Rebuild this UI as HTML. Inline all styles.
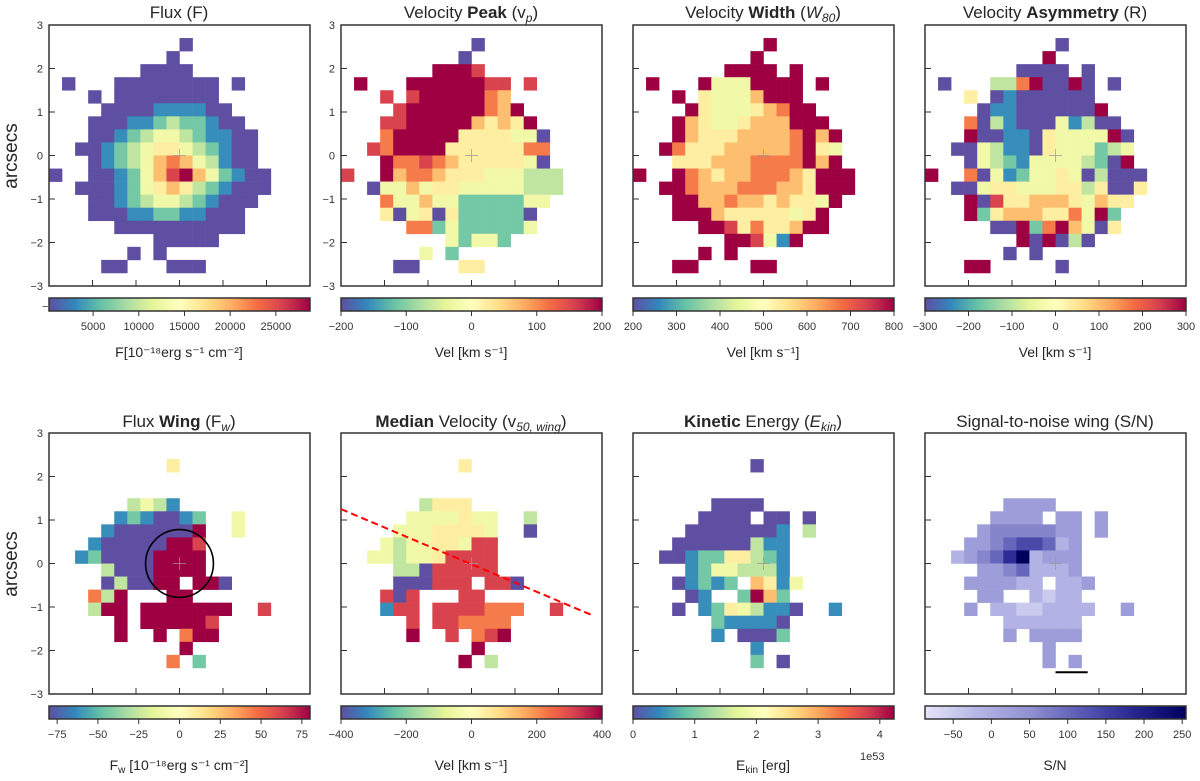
<!DOCTYPE html>
<html><head><meta charset="utf-8"><style>
body{margin:0;background:#fff}
svg{display:block;font-family:"Liberation Sans","DejaVu Sans",sans-serif;fill:#262626}
.t{font-size:17px;text-anchor:middle}
.tk{font-size:11px;fill:#333}
.cl{font-size:14px;text-anchor:middle}
</style></head><body>
<svg id="fig" width="1200" height="781" viewBox="0 0 1200 781">
<defs>
<linearGradient id="gSpec" x1="0" x2="1" y1="0" y2="0"><stop offset="0" stop-color="#5e4fa2"/><stop offset="0.1" stop-color="#3288bd"/><stop offset="0.2" stop-color="#66c2a5"/><stop offset="0.3" stop-color="#abdda4"/><stop offset="0.4" stop-color="#e6f598"/><stop offset="0.5" stop-color="#ffffbf"/><stop offset="0.6" stop-color="#fee08b"/><stop offset="0.7" stop-color="#fdae61"/><stop offset="0.8" stop-color="#f46d43"/><stop offset="0.9" stop-color="#d53e4f"/><stop offset="1" stop-color="#9e0142"/></linearGradient>
<linearGradient id="gSN" x1="0" x2="1" y1="0" y2="0"><stop offset="0" stop-color="#e4e4f9"/><stop offset="0.2" stop-color="#b6b6e6"/><stop offset="0.4" stop-color="#9191d3"/><stop offset="0.6" stop-color="#5a5ab5"/><stop offset="0.8" stop-color="#262690"/><stop offset="1" stop-color="#00005c"/></linearGradient>
</defs>
<g>
<text class="t" x="179" y="18">Flux (F)</text>
<text class="t" x="471" y="18">Velocity <tspan font-weight="bold">Peak</tspan> (v<tspan font-size="12" font-style="italic" dy="4">p</tspan><tspan dy="-4">)</tspan></text>
<text class="t" x="763" y="18">Velocity <tspan font-weight="bold">Width</tspan> (<tspan font-style="italic">W</tspan><tspan font-size="12" font-style="italic" dy="4">80</tspan><tspan dy="-4">)</tspan></text>
<text class="t" x="1055" y="18">Velocity <tspan font-weight="bold">Asymmetry</tspan> (R)</text>
<text class="t" x="179" y="427">Flux <tspan font-weight="bold">Wing</tspan> (F<tspan font-size="12" font-style="italic" dy="4">w</tspan><tspan dy="-4">)</tspan></text>
<text class="t" x="471" y="427"><tspan font-weight="bold">Median</tspan> Velocity (v<tspan font-size="12" font-style="italic" dy="4">50, wing</tspan><tspan dy="-4">)</tspan></text>
<text class="t" x="763" y="427"><tspan font-weight="bold">Kinetic</tspan> Energy (<tspan font-style="italic">E</tspan><tspan font-size="12" font-style="italic" dy="4">kin</tspan><tspan dy="-4">)</tspan></text>
<text class="t" x="1055" y="427">Signal-to-noise wing (S/N)</text>
</g>
<g>
<text class="cl" x="179" y="357">F[10⁻¹⁸erg s⁻¹ cm⁻²]</text>
<text class="cl" x="471" y="357">Vel [km s⁻¹]</text>
<text class="cl" x="763" y="357">Vel [km s⁻¹]</text>
<text class="cl" x="1055" y="357">Vel [km s⁻¹]</text>
<text class="cl" x="179" y="770">F<tspan font-size="10" dy="3">w</tspan><tspan dy="-3"> [10⁻¹⁸erg s⁻¹ cm⁻²]</tspan></text>
<text class="cl" x="471" y="770">Vel [km s⁻¹]</text>
<text class="cl" x="763" y="770">E<tspan font-size="10" dy="3">kin</tspan><tspan dy="-3"> [erg]</tspan></text>
<text class="cl" x="1055" y="770">S/N</text>
<text class="tk" x="860" y="760">1e53</text>
<text class="tk" x="42" y="310">−</text>
<text class="tk" x="305" y="310">8</text>
</g>
<text font-size="19" transform="translate(17,156) rotate(-90)" text-anchor="middle">arcsecs</text>
<text font-size="19" transform="translate(17,564) rotate(-90)" text-anchor="middle">arcsecs</text>
</svg>
<script>
const fluxRows=["....................","..........0.........",".........0..........",".......0000.........",".0...00000000.0.....","...0.00000000.......","....0000111100......","...000112322100.....","...0012344321100....","..00123455432100....","...0123467643100....","0..00124689642100...","..000124565321000...","...0012344321000....","...000112211000.....",".....0000000000.....","........00000.......","......0.0...........","....00...000........"];
const vpeakRows=["....................","..........0.........",".........0..........",".......9998.........",".9...99999988.8.....","...8.89999976.......","....8999999769......","...889999965659.....","...7999995555440....","..87999955555577....","...9778765555540....","8..96776555444333...","..044645544444333...","...7446442222244....","...504505222220.....",".....7724222224.....","........42442.......","......4.2...........","....00...55........."];
const w80Rows=["....................","..........9.........",".........9..........",".......9999.9.......",".9...94449999.9.....","...9.54446999.......","....9544456799......","...965445666999.....","...9655566667969....","..97555666667954....","...5556667777969....","9..97656677765999...","..997666777665999...","...9966766565549....","...999655555459.....",".....9985755699.....",".......998419.......",".....9.9............","...99....99........."];
const asymRows=["....................","..........0.........",".........9..........",".......0000.0.......",".0...33790090.0.....","...5.01000000.......","....0110000009......","...703100041300.....","...9001105444490....","..00431105444234....","...0432144443209....","9..70412445403000...","..004554445535005...","...9085566654655....","...925666557492.....",".....0092796405.....",".......909030.......","......0.0...........","...99.....0........."];
const fwingRows=["....................","....................",".........5..........","....................","....................","......3431..........",".....1210012..4.....","....10000009..4.....","...100000998........","..1200009999........","....30009999........","....030099.990......","...739...99.........","...399.9999999..8...",".....9.999998.......",".....9..9.799.......","..........9.........",".........7.2........"];
const v50Rows=["....................","....................",".........5..........","....................","....................","......3555..........",".....4444544..3.....","....44455554..0.....","...434455488........","..4434458888........","....33088888........","....000888.880......","...808...88.........","...188.8888777..8...",".....8.887777.......",".....9..8.789.......","..........9.........",".........9.3........"];
const ekinRows=["....................","....................",".........0..........","....................","....................","......0000..........",".....0000.00.0......","....00000001.3......","...000000311........","..0012255321........","....12443331........","...01212.6514.......","....01..2962........","...0.12543110..1....","......211110........","......1.0002........",".........1..........",".........2.0........"];
const snRows=["....................","....................","....................","....................","....................","......3333..........",".....3333.33.3......","....34444433.3......","...334566523........","..2345792333........","....33452223........","...333322.223.......","....33..2122........","...3.22112222..3....","......222222........","......3.3333........",".........3..........",".........3.3........"];
const fluxTicks=[5000,10000,15000,20000,25000];
const vpeakTicks=[-200,-100,0,100,200];
const w80Ticks=[200,300,400,500,600,700,800];
const asymTicks=[-300,-200,-100,0,100,200,300];
const fwingTicks=[-75,-50,-25,0,25,50,75];
const v50Ticks=[-400,-200,0,200,400];
const ekinTicks=[0,1,2,3,4];
const snTicks=[-50,0,50,100,150,200,250];
const axisTicks=[-3,-2,-1,0,1,2,3];

const NS="http://www.w3.org/2000/svg";
const svg=document.getElementById('fig');
const SPEC=["#5e4fa2","#3288bd","#66c2a5","#abdda4","#e6f598","#ffffbf","#fee08b","#fdae61","#f46d43","#d53e4f","#9e0142"];
const SN=["#e4e4f9","#b6b6e6","#9191d3","#5a5ab5","#262690","#00005c"];
function hex(h){return [parseInt(h.slice(1,3),16),parseInt(h.slice(3,5),16),parseInt(h.slice(5,7),16)];}
function cmap(stops,t){t=Math.max(0,Math.min(1,t));const n=stops.length-1;const i=Math.min(n-1,Math.floor(t*n));const f=t*n-i;const a=hex(stops[i]),b=hex(stops[i+1]);return 'rgb('+a.map((v,k)=>Math.round(v+(b[k]-v)*f)).join(',')+')';}
function mk(tag,attrs,parent){const e=document.createElementNS(NS,tag);for(const k in attrs)e.setAttribute(k,attrs[k]);(parent||svg).appendChild(e);return e;}

const panels=[
 {rows:fluxRows,ticks:fluxTicks,vmin:170,vmax:28740,cm:SPEC,grad:'gSpec',col:0,row:0,name:'flux',fmt:v=>v},
 {rows:vpeakRows,ticks:vpeakTicks,vmin:-200,vmax:200,cm:SPEC,grad:'gSpec',col:1,row:0,name:'velocity-peak',fmt:v=>v},
 {rows:w80Rows,ticks:w80Ticks,vmin:200,vmax:800,cm:SPEC,grad:'gSpec',col:2,row:0,name:'velocity-width',fmt:v=>v},
 {rows:asymRows,ticks:asymTicks,vmin:-300,vmax:300,cm:SPEC,grad:'gSpec',col:3,row:0,name:'velocity-asymmetry',fmt:v=>v},
 {rows:fwingRows,ticks:fwingTicks,vmin:-80,vmax:80,cm:SPEC,grad:'gSpec',col:0,row:1,name:'flux-wing',fmt:v=>v},
 {rows:v50Rows,ticks:v50Ticks,vmin:-400,vmax:400,cm:SPEC,grad:'gSpec',col:1,row:1,name:'median-velocity',fmt:v=>v},
 {rows:ekinRows,ticks:ekinTicks,vmin:0,vmax:4.23,cm:SPEC,grad:'gSpec',col:2,row:1,name:'kinetic-energy',fmt:v=>v},
 {rows:snRows,ticks:snTicks,vmin:-87,vmax:255,cm:SN,grad:'gSN',col:3,row:1,name:'signal-to-noise',fmt:v=>v}
];
const CELL=0.3;
panels.forEach(p=>{
  const x0=49+p.col*292, w=261;
  const y0=p.row===0?25:433, h=261;
  const cbY=p.row===0?298:706, cbH=13;
  const xs=a=>x0+(a+3)/6*w, ys=a=>y0+(3-a)/6*h;
  const g=mk('g',{});
  
  
  p.rows.forEach((r,ri)=>{
    for(let c=0;c<r.length;c++){
      const ch=r[c]; if(ch==='.')continue;
      const val=p.vmin+(+ch)/9*(p.vmax-p.vmin);
      const ax=-3+c*CELL, ay=3-ri*CELL;
      const rc=mk('rect',{x:xs(ax).toFixed(2),y:ys(ay).toFixed(2),width:(xs(ax+CELL)-xs(ax)+0.3).toFixed(2),height:(ys(ay-CELL)-ys(ay)+0.3).toFixed(2),fill:cmap(p.cm,(val-p.vmin)/(p.vmax-p.vmin))},g);
      
      
    }
  });
  // center cross
  const cr=mk('path',{d:`M${xs(-0.15)},${ys(0)}H${xs(0.15)}M${xs(0)},${ys(0.15)}V${ys(-0.15)}`,stroke:'#999',"stroke-width":0.7,fill:'none'},g);
  
  
  // frame
  const fr=mk('rect',{x:x0,y:y0,width:w,height:h,fill:'none',stroke:'#333',"stroke-width":1.5},g);
  
  
  axisTicks.forEach(t=>{
    if(Math.abs(t)<3){
      const tx=mk('line',{x1:xs(t),x2:xs(t),y1:y0+h,y2:y0+h-6,stroke:'#333',"stroke-width":1},g);
      
      
      const ty=mk('line',{x1:x0,x2:x0+6,y1:ys(t),y2:ys(t),stroke:'#333',"stroke-width":1},g);
      
      
    }
    if(p.col===0||(p.col===1&&p.row===0)){
      const tl=mk('text',{x:x0-6,y:ys(t)+4,"text-anchor":"end",class:'tk'},g);
      tl.textContent=(t<0?'−':'')+Math.abs(t);
      
      
    }
  });
  // colorbar
  const cb=mk('rect',{x:x0,y:cbY,width:w,height:cbH,fill:`url(#${p.grad})`,stroke:'#333',"stroke-width":1.5},g);
  
  
  p.ticks.forEach(t=>{
    const cx=x0+(t-p.vmin)/(p.vmax-p.vmin)*w;
    const l=mk('line',{x1:cx,x2:cx,y1:cbY+cbH,y2:cbY+cbH+5,stroke:'#333',"stroke-width":1},g);
    
    
    const tl=mk('text',{x:cx,y:cbY+cbH+19,"text-anchor":"middle",class:'tk'},g);
    tl.textContent=(t<0?'−':'')+Math.abs(t);
    
    
  });
  if(p.name==='flux-wing'){
    const ci=mk('ellipse',{cx:xs(0),cy:ys(0),rx:(xs(0.78)-xs(0)),ry:(ys(-0.78)-ys(0)),fill:'none',stroke:'#000',"stroke-width":1.6},g);
    
    
  }
  if(p.name==='median-velocity'){
    const ln=mk('line',{x1:xs(-3),y1:ys(1.25),x2:xs(2.8),y2:ys(-1.2),stroke:'#f00',"stroke-width":2,"stroke-dasharray":"7,4"},g);
    
    
  }
  if(p.name==='signal-to-noise'){
    const sb=mk('line',{x1:xs(0),y1:ys(-2.5),x2:xs(0.74),y2:ys(-2.5),stroke:'#000',"stroke-width":2},g);
    
    
  }
});
</script>
</body></html>
